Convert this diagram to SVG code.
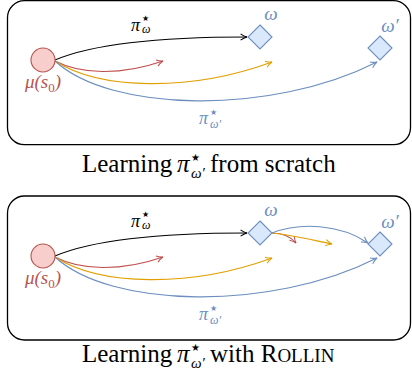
<svg xmlns="http://www.w3.org/2000/svg" width="412" height="372" viewBox="0 0 412 372">
<defs>
<style>
.box{fill:none;stroke:#000;stroke-width:1.3}
.k{fill:none;stroke:#000;stroke-width:1.1}
.r{fill:none;stroke:#c0504d;stroke-width:1.1}
.y{fill:none;stroke:#e0a000;stroke-width:1.1}
.b{fill:none;stroke:#6c8ebf;stroke-width:1.1}
.start{fill:#f8cecc;stroke:#b85450;stroke-width:1.1}
.goal{fill:#dae8fc;stroke:#6c8ebf;stroke-width:1.1}
.m{font-family:"Liberation Serif",serif;font-style:italic}
.st{font-family:"DejaVu Sans",sans-serif;font-style:normal}
.cap{font-family:"Liberation Serif",serif;fill:#000}
</style>
<marker id="ak" viewBox="0 0 10 10" refX="9" refY="5" markerWidth="8" markerHeight="8" orient="auto" markerUnits="userSpaceOnUse"><path d="M1,1 Q5,4 9,5 Q5,6 1,9" fill="none" stroke="#000" stroke-width="1.3"/></marker>
<marker id="ar" viewBox="0 0 10 10" refX="9" refY="5" markerWidth="8" markerHeight="8" orient="auto" markerUnits="userSpaceOnUse"><path d="M1,1 Q5,4 9,5 Q5,6 1,9" fill="none" stroke="#c0504d" stroke-width="1.3"/></marker>
<marker id="ay" viewBox="0 0 10 10" refX="9" refY="5" markerWidth="8" markerHeight="8" orient="auto" markerUnits="userSpaceOnUse"><path d="M1,1 Q5,4 9,5 Q5,6 1,9" fill="none" stroke="#e0a000" stroke-width="1.3"/></marker>
<marker id="ab" viewBox="0 0 10 10" refX="9" refY="5" markerWidth="8" markerHeight="8" orient="auto" markerUnits="userSpaceOnUse"><path d="M1,1 Q5,4 9,5 Q5,6 1,9" fill="none" stroke="#6c8ebf" stroke-width="1.3"/></marker>
</defs>

<!-- Top panel -->
<g id="panel-top">
<rect class="box" x="7.5" y="0.7" width="403" height="144" rx="17"/>
<g id="connectors-top">
<path class="k" d="M55,60 C95,43 160,37 247,37" marker-end="url(#ak)"/>
<path class="r" d="M55,61 C80,74 120,76 163,61" marker-end="url(#ar)"/>
<path class="y" d="M55,61 C100,90 190,92 272,62" marker-end="url(#ay)"/>
<path class="b" d="M55,61 C110,112 270,116 377,62" marker-end="url(#ab)"/>
</g>
<g id="mu-top">
<circle class="start" cx="43" cy="60" r="12"/>
<text class="m" x="43" y="88" font-size="19" fill="#b85450" text-anchor="middle">μ(s<tspan font-style="normal" font-size="13" dy="4">0</tspan><tspan dy="-4">)</tspan></text>
</g>
<g id="omega-top">
<polygon class="goal" points="260,25 272,37 260,49 248,37"/>
<text class="m" x="271" y="20" font-size="19" fill="#6c8ebf" text-anchor="middle">ω</text>
</g>
<g id="omegap-top">
<polygon class="goal" points="380,36 392,48 380,60 368,48"/>
<text class="m" x="390" y="32" font-size="19" fill="#6c8ebf" text-anchor="middle">ω′</text>
</g>
<g id="label-pi-w-top">
<text class="m" x="131" y="31" font-size="18">π</text>
<text class="st" x="142" y="21" font-size="8">★</text>
<text class="m" x="142" y="33" font-size="12">ω</text>
</g>
<g id="label-pi-wp-top" fill="#6c8ebf">
<text class="m" x="199" y="124" font-size="18">π</text>
<text class="st" x="210" y="115" font-size="8">★</text>
<text class="m" x="210" y="128" font-size="12">ω′</text>
</g>
</g>
<g id="caption-top">
<text class="cap" x="82" y="172" font-size="25">Learning</text>
<text class="cap" x="177" y="172" font-size="25" font-style="italic">π</text>
<text class="st" x="191" y="161" font-size="10">★</text>
<text class="cap" x="191" y="178" font-size="15" font-style="italic">ω′</text>
<text class="cap" x="210" y="172" font-size="25">from scratch</text>
</g>

<!-- Bottom panel -->
<g id="panel-bottom">
<rect class="box" x="7.5" y="196" width="403" height="144" rx="17"/>
<g id="connectors-bottom">
<path class="k" d="M55,256 C95,239 160,233 247,233" marker-end="url(#ak)"/>
<path class="r" d="M55,257 C80,270 120,272 163,257" marker-end="url(#ar)"/>
<path class="y" d="M55,257 C100,286 190,288 272,258" marker-end="url(#ay)"/>
<path class="b" d="M55,257 C110,308 270,312 377,258" marker-end="url(#ab)"/>
<path class="r" d="M272,233 C282,233 290,236 296,243" marker-end="url(#ar)"/>
<path class="y" d="M272,233 C292,235 312,240 332,244" marker-end="url(#ay)"/>
<path class="b" d="M272,233 C300,222 340,224 368,243" marker-end="url(#ab)"/>
</g>
<g id="mu-bottom">
<circle class="start" cx="43" cy="256" r="12"/>
<text class="m" x="43" y="284" font-size="19" fill="#b85450" text-anchor="middle">μ(s<tspan font-style="normal" font-size="13" dy="4">0</tspan><tspan dy="-4">)</tspan></text>
</g>
<g id="omega-bottom">
<polygon class="goal" points="260,221 272,233 260,245 248,233"/>
<text class="m" x="271" y="216" font-size="19" fill="#6c8ebf" text-anchor="middle">ω</text>
</g>
<g id="omegap-bottom">
<polygon class="goal" points="380,232 392,244 380,256 368,244"/>
<text class="m" x="390" y="228" font-size="19" fill="#6c8ebf" text-anchor="middle">ω′</text>
</g>
<g id="label-pi-w-bottom">
<text class="m" x="131" y="227" font-size="18">π</text>
<text class="st" x="142" y="217" font-size="8">★</text>
<text class="m" x="142" y="229" font-size="12">ω</text>
</g>
<g id="label-pi-wp-bottom" fill="#6c8ebf">
<text class="m" x="199" y="320" font-size="18">π</text>
<text class="st" x="210" y="311" font-size="8">★</text>
<text class="m" x="210" y="324" font-size="12">ω′</text>
</g>
</g>
<g id="caption-bottom">
<text class="cap" x="82" y="362" font-size="25">Learning</text>
<text class="cap" x="177" y="362" font-size="25" font-style="italic">π</text>
<text class="st" x="191" y="351" font-size="10">★</text>
<text class="cap" x="191" y="368" font-size="15" font-style="italic">ω′</text>
<text class="cap" x="210" y="362" font-size="25">with R<tspan font-size="19">OLLIN</tspan></text>
</g>
</svg>
